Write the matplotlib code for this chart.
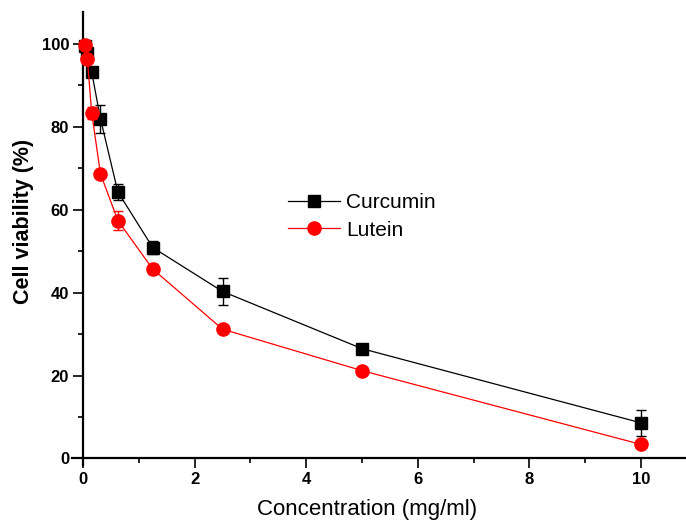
import matplotlib
matplotlib.use("Agg")
import matplotlib.pyplot as plt
from matplotlib.ticker import MultipleLocator
from matplotlib.lines import Line2D

plt.rcParams['font.family'] = ['Liberation Sans', 'DejaVu Sans']

conc = [0.039, 0.078, 0.156, 0.3125, 0.625, 1.25, 2.5, 5, 10]
curcumin = [99.5, 97.8, 93.2, 82.0, 64.3, 50.9, 40.3, 26.5, 8.6]
curcumin_err = [1.0, 1.0, 1.2, 3.4, 1.9, 1.5, 3.3, 0.8, 3.1]
lutein = [99.8, 96.3, 83.4, 68.7, 57.4, 45.7, 31.2, 21.2, 3.4]
lutein_err = [1.0, 1.0, 1.5, 0.8, 2.3, 1.2, 1.0, 0.6, 0.6]

xticks = [0, 2, 4, 6, 8, 10]
yticks = [0, 20, 40, 60, 80, 100]

W, H = 686, 521
fig = plt.figure(figsize=(W / 100, H / 100), dpi=100)
# axes placement in pixels
x0_px, x10_px = 83, 641
y0_px, y100_px = 458.5, 44
xmin, xmax = -0.2, 10.82
ymin, ymax = -1.5, 107.7
ppx = (x10_px - x0_px) / 10
ppy = (y0_px - y100_px) / 100
left = x0_px + xmin * ppx
right = x0_px + xmax * ppx
bottom = y0_px - ymin * ppy
top = y0_px - ymax * ppy
ax = fig.add_axes([left / W, 1 - bottom / H, (right - left) / W, (bottom - top) / H])

ax.errorbar(conc, curcumin, yerr=curcumin_err, color='black', marker='s',
            markersize=8.5, linewidth=0.9, elinewidth=1.0, capsize=3.5,
            capthick=1.0, zorder=3)
ax.errorbar(conc, lutein, yerr=lutein_err, color='#ff0000', marker='o',
            markersize=9.5, linewidth=0.9, elinewidth=1.0, capsize=3.5,
            capthick=1.0, zorder=4)

ax.set_xlim(xmin, xmax)
ax.set_ylim(ymin, ymax)
ax.set_xticks(xticks)
ax.set_yticks(yticks)
ax.xaxis.set_minor_locator(MultipleLocator(1))
ax.yaxis.set_minor_locator(MultipleLocator(10))

for s in ['top', 'right']:
    ax.spines[s].set_visible(False)
ax.spines['left'].set_position(('data', 0))
ax.spines['bottom'].set_position(('data', 0))
for s in ['left', 'bottom']:
    ax.spines[s].set_linewidth(1.6)

ax.tick_params(which='major', direction='out', length=7, width=1.2,
               labelsize=12, pad=3)
ax.tick_params(which='minor', direction='out', length=3.5, width=1.2)
for lab in ax.get_xticklabels() + ax.get_yticklabels():
    lab.set_fontweight('bold')

fig.text(367.5 / W, 5.5 / H, 'Concentration (mg/ml)', fontsize=16,
         ha='center', va='baseline')
fig.text(23.5 / W, 1 - 221 / H, 'Cell viability (%)', fontsize=15.5,
         fontweight='bold', rotation=90, ha='center', va='center')

handles = [
    Line2D([], [], color='black', marker='s', markersize=8.5, linewidth=0.9),
    Line2D([], [], color='#ff0000', marker='o', markersize=9.5, linewidth=0.9),
]
labels = ['Curcumin', 'Lutein']
leg = fig.legend(handles, labels, loc='upper left',
                 bbox_to_anchor=(288 / W, 1 - 193 / H), bbox_transform=fig.transFigure,
                 frameon=False, fontsize=15, handlelength=2.5, handletextpad=0.3,
                 labelspacing=0.42, borderpad=0, borderaxespad=0)

fig.savefig('out.png', dpi=100)
